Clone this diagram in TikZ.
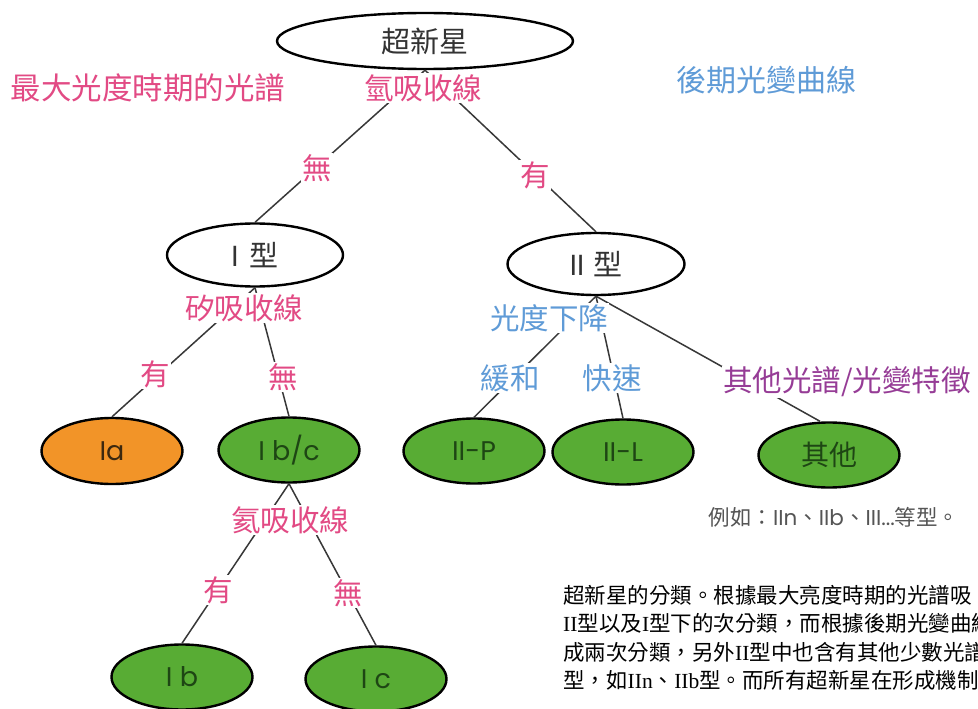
\documentclass[tikz,border=0pt]{standalone}
\usepackage{fontspec}
\setmainfont{Noto Sans CJK TC}
\newfontfamily\latf{Poppins}
\newfontfamily\serf{Liberation Serif}
\usetikzlibrary{shapes.geometric}
\definecolor{pinkc}{RGB}{226,74,132}
\definecolor{bluec}{RGB}{95,155,215}
\definecolor{purpc}{RGB}{150,60,150}
\definecolor{orangef}{RGB}{242,148,40}
\definecolor{greenf}{RGB}{88,172,52}
\definecolor{textgreen}{RGB}{30,70,20}
\definecolor{textbrown}{RGB}{60,40,15}
\definecolor{graytxt}{RGB}{85,85,85}
\tikzset{
  ell/.style={ellipse, draw=black, line width=2.4pt, inner sep=0pt},
  whiteell/.style={ell, fill=white, text=black!80, font=\fontsize{29}{32}\selectfont},
  greenell/.style={ell, fill=greenf, text=textgreen, minimum width=141pt, minimum height=65pt, font=\latf\fontsize{27}{30}\selectfont},
  orangeell/.style={ell, fill=orangef, text=textbrown, minimum width=141pt, minimum height=66pt, font=\latf\fontsize{27}{30}\selectfont},
  lbl/.style={fill=white, inner sep=1pt, font=\fontsize{29.5}{32}\selectfont},
  pinklbl/.style={lbl, text=pinkc},
  bluelbl/.style={lbl, text=bluec},
  purplbl/.style={lbl, text=purpc},
  conn/.style={draw=black!78, line width=1.5pt},
  captxt/.style={anchor=west, inner sep=0pt, text=black, font=\fontsize{21.5}{24}\selectfont},
}
\begin{document}
\begin{tikzpicture}[x=1pt,y=-1pt]
\clip (0,0) rectangle (978,709);
\fill[white] (0,0) rectangle (978,709);

% ellipses
\node[whiteell, minimum width=296pt, minimum height=56pt] (root) at (425,41) {超新星};
\node[whiteell, minimum width=176pt, minimum height=63pt] (t1) at (255,255) {{\latf I}\hspace{11pt}型};
\node[whiteell, minimum width=177pt, minimum height=62pt] (t2) at (596,264) {{\latf II}\hspace{9pt}型};
\node[orangeell] (ia) at (112,451) {Ia};
\node[greenell] (ibc) at (289,450) {I b/c};
\node[greenell] (ib) at (182,677) {I b};
\node[greenell] (ic) at (376,679) {I c};
\node[greenell] (iip) at (474,451) {II-P};
\node[greenell] (iil) at (623,452) {II-L};
\node[greenell, font=\fontsize{28}{30}\selectfont] (oth) at (829,455) {其他};

% connectors
\draw[conn] (root.south) -- (t1.north);
\draw[conn] (root.south) -- (t2.north);
\draw[conn] (t1.south) -- (ia.north);
\draw[conn] (t1.south) -- (ibc.north);
\draw[conn] (ibc.south) -- (ib.north);
\draw[conn] (ibc.south) -- (ic.north);
\draw[conn] (t2.south) -- (iip.north);
\draw[conn] (t2.south) -- (iil.north);
\draw[conn] (t2.south) -- ([xshift=-9pt]oth.north);

% branch labels
\node[pinklbl] (hlines) at (423,88) {氫吸收線};
\node[pinklbl] (no1) at (317,168) {無};
\node[pinklbl] (yes1) at (535,175) {有};
\node[pinklbl] (silines) at (244,308) {矽吸收線};
\node[pinklbl] (yes2) at (155,374) {有};
\node[pinklbl] (no2) at (283,377) {無};
\node[pinklbl] (helines) at (290,520) {氦吸收線};
\node[pinklbl] (yes3) at (218,590) {有};
\node[pinklbl] (no3) at (348,593) {無};
\node[bluelbl] (decline) at (549,318) {光度下降};
\node[bluelbl] (slow) at (510,378) {緩和};
\node[bluelbl] (fast) at (612,378) {快速};
\node[purplbl] (other) at (847,382) {其他光譜/光變特徵};

% headings
\node[text=pinkc, inner sep=0pt, font=\fontsize{30.5}{32}\selectfont] (head1) at (148,88) {最大光度時期的光譜};
\node[text=bluec, inner sep=0pt, font=\fontsize{30}{32}\selectfont] (head2) at (766,80) {後期光變曲線};

% example note
\node[text=graytxt, inner sep=0pt, font=\fontsize{21.5}{24}\selectfont] (eg) at (834,517) {例如：{\latf IIn}、{\latf IIb}、{\latf III...}等型。};

% caption (cut by the picture's right edge, as in the reference)
\node[captxt] (cap1) at (563,595) {超新星的分類。根據最大亮度時期的光譜吸};
\node[captxt] (cap2) at (563,623) {{\serf II}型以及{\serf I}型下的次分類，而根據後期光變曲線};
\node[captxt] (cap3) at (563,652) {成兩次分類，另外{\serf II}型中也含有其他少數光譜};
\node[captxt] (cap4) at (563,680) {型，如{\serf IIn}、{\serf IIb}型。而所有超新星在形成機制};
\end{tikzpicture}
\end{document}
